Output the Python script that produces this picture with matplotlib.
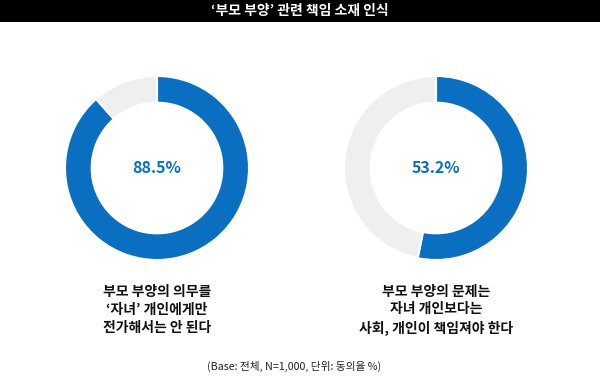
import matplotlib
matplotlib.use("Agg")
import matplotlib.pyplot as plt
from matplotlib.patches import Rectangle

plt.rcParams['font.family'] = ['Noto Sans CJK KR', 'DejaVu Sans']

title = "‘부모 부양’ 관련 책임 소재 인식"
values = [88.5, 53.2]
value_labels = ["88.5%", "53.2%"]
captions = [
    "부모 부양의 의무를\n‘자녀’ 개인에게만\n전가해서는 안 된다",
    "부모 부양의 문제는\n자녀 개인보다는\n사회, 개인이 책임져야 한다",
]
footnote = "(Base: 전체, N=1,000, 단위: 동의율 %)"

W, H = 600, 377
fig = plt.figure(figsize=(W / 100, H / 100), dpi=100)
fig.patch.set_facecolor("white")

# title bar
fig.patches.append(Rectangle((0, 1 - 22 / H), 1, 22 / H, transform=fig.transFigure,
                             facecolor="black", edgecolor="none", zorder=0))
fig.text(0.5, 1 - 11 / H, title, color="white", ha="center", va="center",
         fontsize=10, fontweight="bold")

blue = "#0a6fc0"
gray = "#efefef"
centers = [(157, 168), (436, 168)]
radius = 92

for (cx, cy), v, lab, cap in zip(centers, values, value_labels, captions):
    ax = fig.add_axes([(cx - radius) / W, 1 - (cy + radius) / H, 2 * radius / W, 2 * radius / H])
    ax.pie([v, 100 - v], colors=[blue, gray], startangle=90, counterclock=False,
           radius=1.0, wedgeprops=dict(width=0.29, edgecolor="white", linewidth=1.5))
    ax.set_xlim(-1.0, 1.0)
    ax.set_ylim(-1.0, 1.0)
    ax.set_aspect("equal")
    ax.axis("off")
    ax.text(0, 0, lab, ha="center", va="center", color=blue, fontsize=11.5, fontweight="bold")
    fig.text(cx / W, 1 - 310 / H, cap, ha="center", va="center", fontsize=10,
             color="#111111", linespacing=1.35, fontweight="bold")

fig.text(294 / W, 1 - 366 / H, footnote, ha="center", va="center", fontsize=7.7, color="#222222")

fig.savefig("out.png", dpi=100)
